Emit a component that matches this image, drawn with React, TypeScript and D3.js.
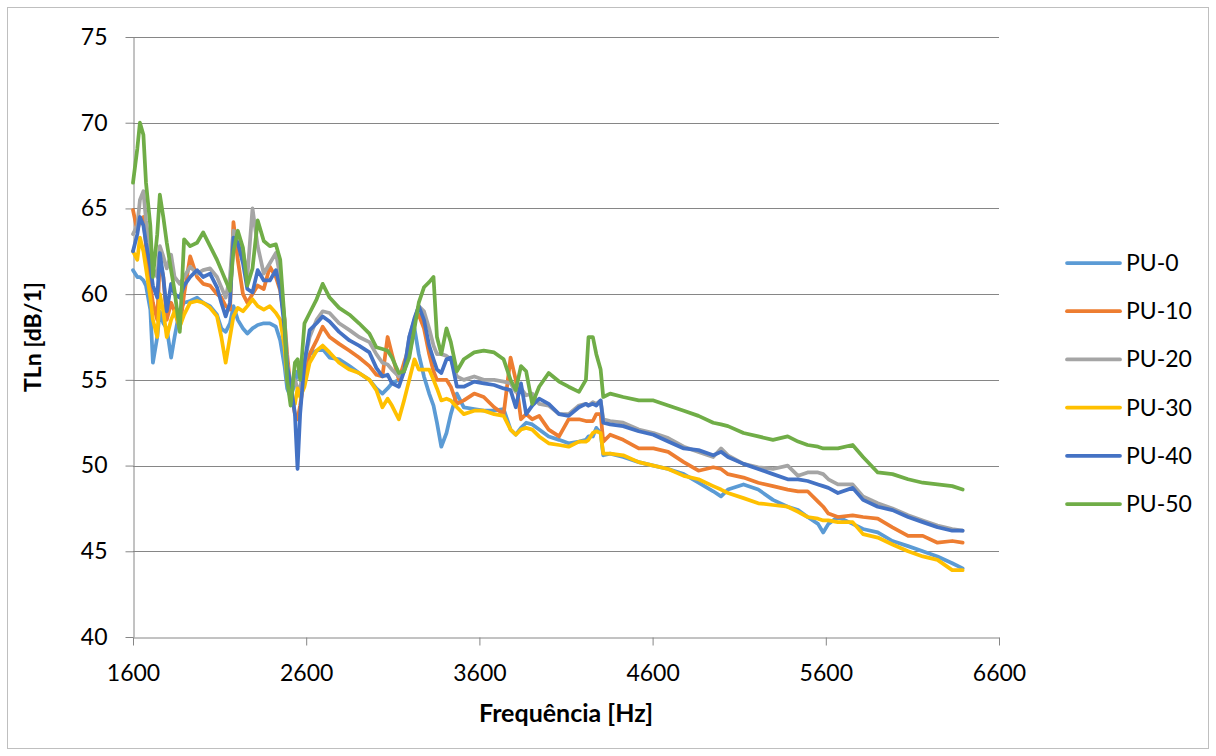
import { useRef, useEffect } from 'react';
import * as d3 from 'd3';

// frequency grid [Hz] shared by all series
const freqs = [
  1600, 1625, 1640, 1660, 1675, 1700, 1715, 1740, 1755, 1775, 1795, 1820, 1840, 1870, 1895, 1930, 1970, 2005, 2045, 2085,
  2110, 2135, 2160, 2180, 2205, 2235, 2260, 2290, 2320, 2355, 2390, 2425, 2450, 2475, 2490, 2510, 2535, 2550, 2565, 2590,
  2620, 2660, 2695, 2735, 2790, 2850, 2905, 2965, 3005, 3040, 3070, 3095, 3135, 3165, 3195, 3225, 3250, 3280, 3310, 3335,
  3355, 3380, 3410, 3435, 3470, 3510, 3570, 3625, 3685, 3740, 3780, 3810, 3840, 3870, 3905, 3945, 4000, 4060, 4115, 4175,
  4215, 4230, 4255, 4275, 4300, 4315, 4355, 4430, 4520, 4605, 4690, 4780, 4865, 4950, 4995, 5035, 5125, 5210, 5295, 5380,
  5440, 5495, 5555, 5585, 5615, 5670, 5755, 5815, 5900, 5985, 6075, 6160, 6245, 6330, 6390,
];

const pu0 = [
  61.4, 61.0, 61.0, 60.8, 60.5, 59.1, 56.0, 57.5, 59.0, 58.3, 58.0, 56.3, 57.5, 59.1, 59.5, 59.6, 59.8, 59.5, 59.3, 58.8,
  58.0, 57.8, 58.3, 59.3, 58.5, 58.0, 57.7, 58.0, 58.2, 58.3, 58.3, 58.1, 57.3, 55.8, 54.5, 54.0, 54.8, 55.5, 55.2, 55.5,
  56.5, 56.7, 56.8, 56.3, 56.2, 55.8, 55.4, 55.0, 54.5, 54.2, 54.5, 54.8, 55.0, 55.5, 56.5, 58.0, 56.5, 55.2, 54.2, 53.5,
  52.5, 51.1, 51.9, 53.0, 54.2, 53.4, 53.3, 53.2, 53.2, 53.3, 52.1, 51.8, 52.2, 52.5, 52.4, 52.1, 51.7, 51.5, 51.3, 51.4,
  51.5, 51.7, 51.7, 52.2, 51.9, 50.6, 50.7, 50.5, 50.2, 50.0, 49.8, 49.5, 49.0, 48.5, 48.2, 48.6, 48.9, 48.6, 48.0, 47.6,
  47.4, 47.0, 46.6, 46.1, 46.6, 47.0, 46.6, 46.3, 46.1, 45.6, 45.3, 45.0, 44.7, 44.3, 44.0,
];

const pu10 = [
  64.9, 63.7, 64.3, 64.5, 62.8, 60.5, 59.5, 58.5, 62.0, 61.0, 58.5, 59.5, 59.0, 58.0, 60.0, 62.2, 61.0, 60.6, 60.5, 60.0,
  59.8, 59.3, 59.1, 64.2, 62.0, 60.0, 59.5, 60.0, 60.5, 60.3, 61.6, 61.0, 60.2, 58.5, 56.5, 54.5, 53.0, 52.7, 53.5, 55.2,
  56.5, 57.3, 58.1, 57.5, 57.1, 56.7, 56.3, 55.8, 55.3, 55.2, 57.5, 56.5, 55.0, 56.0, 56.9, 58.5, 58.8, 58.0, 56.5, 55.5,
  55.0, 55.0, 55.0, 54.6, 53.6, 53.8, 54.2, 54.0, 53.4, 53.0, 56.3, 55.0, 52.7, 53.0, 52.7, 52.9, 52.1, 51.7, 52.7, 52.7,
  52.6, 52.6, 52.6, 53.0, 53.0, 51.4, 51.8, 51.5, 51.0, 51.0, 50.8, 50.2, 49.7, 49.9, 49.8, 49.5, 49.3, 49.0, 48.8, 48.6,
  48.5, 48.5, 47.9, 47.6, 47.2, 47.0, 47.1, 47.0, 46.9, 46.4, 45.9, 45.9, 45.5, 45.6, 45.5,
];

const pu20 = [
  63.5, 64.0, 65.5, 66.0, 64.3, 62.5, 61.5, 61.0, 62.8, 62.2, 61.5, 62.3, 61.0, 60.6, 61.0, 61.6, 61.2, 61.4, 61.5, 61.0,
  60.4, 59.8, 61.0, 63.7, 63.5, 62.5, 61.0, 65.0, 62.8, 61.2, 61.8, 62.4, 61.0, 58.5, 56.0, 54.5, 55.0, 54.5, 54.5, 56.0,
  57.5, 58.5, 59.0, 58.9, 58.3, 57.9, 57.5, 57.2, 56.5, 56.0, 55.9, 55.6, 55.2, 55.5, 57.5, 58.5, 59.3, 59.0, 58.0, 57.0,
  56.5, 56.5, 56.4, 56.2, 55.2, 55.0, 55.2, 55.0, 55.0, 54.9, 54.8, 54.3, 54.5, 54.1, 54.2, 53.6, 53.5, 53.0, 53.0, 53.5,
  53.6, 53.5, 53.7, 53.6, 53.8, 52.7, 52.6, 52.5, 52.1, 51.9, 51.6, 51.1, 50.8, 50.5, 51.0, 50.6, 50.1, 49.9, 49.8, 50.0,
  49.4, 49.6, 49.6, 49.5, 49.2, 48.9, 48.9, 48.2, 47.8, 47.5, 47.1, 46.8, 46.5, 46.3, 46.2,
];

const pu30 = [
  62.5, 62.0, 63.3, 62.5, 61.5, 59.8, 58.5, 57.5, 60.0, 59.0, 57.5, 58.5, 59.0, 58.1, 58.8, 59.5, 59.6, 59.5, 59.2, 58.7,
  57.5, 56.0, 57.5, 58.7, 59.2, 59.0, 59.3, 59.7, 59.3, 59.1, 59.3, 58.9, 58.5, 56.9, 55.0, 54.0, 53.6, 54.5, 54.0, 54.6,
  56.0, 56.7, 57.0, 56.6, 56.0, 55.6, 55.4, 55.0, 54.4, 53.4, 53.9, 53.5, 52.7, 53.8, 55.0, 56.2, 55.6, 55.6, 55.6, 55.0,
  54.5, 53.8, 53.9, 53.8, 53.4, 53.0, 53.2, 53.2, 53.0, 52.9, 52.1, 51.8, 52.1, 52.2, 52.1, 51.7, 51.3, 51.2, 51.1, 51.4,
  51.4, 51.5, 51.9, 52.0, 51.9, 50.7, 50.7, 50.6, 50.2, 50.0, 49.8, 49.4, 49.2, 48.8, 48.6, 48.4, 48.1, 47.8, 47.7, 47.6,
  47.3, 47.0, 46.9, 46.8, 46.8, 46.7, 46.7, 46.0, 45.8, 45.4, 45.0, 44.7, 44.5, 43.9, 43.9,
];

const pu40 = [
  62.5, 63.5, 64.5, 64.0, 63.0, 61.6, 60.5, 59.8, 62.4, 61.0, 59.0, 60.6, 60.0, 59.8, 60.5, 61.0, 61.4, 61.0, 61.2, 60.4,
  59.5, 58.7, 59.5, 63.3, 63.0, 61.8, 60.3, 60.1, 61.4, 60.8, 60.8, 61.4, 60.3, 58.0, 55.8, 54.8, 53.0, 49.8, 53.0, 56.0,
  57.9, 58.3, 58.7, 58.4, 57.8, 57.3, 57.0, 56.6, 55.7, 55.2, 55.3, 54.8, 54.6, 55.5, 57.5, 58.6, 59.3, 58.5, 57.0, 56.2,
  55.6, 55.4, 56.2, 56.3, 54.6, 54.6, 54.9, 54.8, 54.7, 54.5, 54.4, 53.4, 54.8, 53.0, 53.5, 53.9, 53.6, 53.0, 52.9, 53.4,
  53.6, 53.5, 53.6, 53.5, 53.8, 52.5, 52.4, 52.3, 52.0, 51.8, 51.4, 51.0, 50.9, 50.6, 50.8, 50.5, 50.1, 49.8, 49.5, 49.2,
  49.2, 49.1, 48.9, 48.8, 48.7, 48.4, 48.7, 48.0, 47.6, 47.4, 47.0, 46.7, 46.4, 46.2, 46.2,
];

const pu50 = [
  66.5, 68.5, 70.0, 69.3, 66.5, 64.0, 61.0, 63.5, 65.8, 64.5, 63.0, 61.4, 60.2, 57.8, 63.2, 62.8, 63.0, 63.6, 62.8, 62.0,
  61.4, 60.8, 60.2, 62.5, 63.7, 62.7, 60.5, 61.5, 64.3, 63.1, 62.8, 62.9, 62.0, 58.5, 55.0, 53.5, 56.0, 56.2, 55.0, 58.3,
  58.9, 59.7, 60.6, 59.8, 59.2, 58.8, 58.3, 57.7, 56.9, 56.8, 56.7, 56.3, 55.4, 55.5, 56.3, 58.0, 59.5, 60.4, 60.7, 61.0,
  57.5, 56.5, 58.0, 57.2, 55.5, 56.2, 56.6, 56.7, 56.6, 56.2, 55.0, 54.4, 55.8, 55.5, 53.6, 54.6, 55.4, 54.9, 54.6, 54.3,
  55.0, 57.5, 57.5, 56.5, 55.6, 54.0, 54.2, 54.0, 53.8, 53.8, 53.5, 53.2, 52.9, 52.5, 52.4, 52.3, 51.9, 51.7, 51.5, 51.7,
  51.4, 51.2, 51.1, 51.0, 51.0, 51.0, 51.2, 50.5, 49.6, 49.5, 49.2, 49.0, 48.9, 48.8, 48.6,
];

const seriesNames = ['PU-0', 'PU-10', 'PU-20', 'PU-30', 'PU-40', 'PU-50'];
const seriesValues = [pu0, pu10, pu20, pu30, pu40, pu50];
const seriesColors = ['#5b9bd5', '#ed7d31', '#a5a5a5', '#ffc000', '#4472c4', '#70ad47'];

const xTicks = [1600, 2600, 3600, 4600, 5600, 6600];
const yTicks = [40, 45, 50, 55, 60, 65, 70, 75];

const FONT = 'Lato, "Open Sans", sans-serif';

const App = () => {
  const svgRef = useRef<SVGSVGElement>(null);

  useEffect(() => {
    const width = 1216;
    const height = 756;
    const left = 133;
    const right = 999;
    const top = 37;
    const bottom = 637;
    const axisColor = '#868686';

    const xScale = d3.scaleLinear([1600, 6600], [left, right]);
    const yScale = d3.scaleLinear([40, 75], [bottom, top]);

    const svg = d3.select(svgRef.current);
    svg.selectAll('*').remove();

    svg.append('rect')
      .attr('width', width)
      .attr('height', height)
      .attr('fill', '#ffffff');

    // chart area border
    svg.append('rect')
      .attr('x', 7.5)
      .attr('y', 7.5)
      .attr('width', width - 15)
      .attr('height', height - 15)
      .attr('fill', 'none')
      .attr('stroke', '#bfbfbf');

    // horizontal gridlines
    svg.append('g')
      .selectAll('line')
      .data(yTicks.filter((d) => d !== 40))
      .join('line')
      .attr('x1', left)
      .attr('x2', right)
      .attr('y1', (d) => Math.round(yScale(d)) + 0.5)
      .attr('y2', (d) => Math.round(yScale(d)) + 0.5)
      .attr('stroke', axisColor)
      .attr('stroke-width', 1);

    // y axis
    svg.append('g')
      .attr('transform', `translate(${left + 0.5},0)`)
      .call(d3.axisLeft(yScale).tickValues(yTicks).tickSize(8).tickSizeOuter(0).tickPadding(18))
      .call((g) => g.select('.domain').attr('stroke', axisColor))
      .call((g) => g.selectAll('.tick line').attr('stroke', axisColor))
      .call((g) => g.selectAll('.tick text')
        .attr('font-size', 23)
        .attr('font-family', FONT)
        .attr('fill', '#000'));

    // x axis
    svg.append('g')
      .attr('transform', `translate(0,${bottom + 0.5})`)
      .call(d3.axisBottom(xScale).tickValues(xTicks).tickFormat(d3.format('d')).tickSize(8).tickSizeOuter(0).tickPadding(19))
      .call((g) => g.select('.domain').attr('stroke', axisColor))
      .call((g) => g.selectAll('.tick line').attr('stroke', axisColor))
      .call((g) => g.selectAll('.tick text')
        .attr('font-size', 23)
        .attr('font-family', FONT)
        .attr('fill', '#000'));

    // series lines
    const line = d3.line<number>()
      .x((_, i) => xScale(freqs[i]))
      .y((d) => yScale(d))
      .curve(d3.curveLinear);

    seriesValues.forEach((vals, k) => {
      svg.append('path')
        .attr('fill', 'none')
        .attr('stroke', seriesColors[k])
        .attr('stroke-width', 3.75)
        .attr('stroke-linejoin', 'round')
        .attr('stroke-linecap', 'round')
        .attr('d', line(vals));
    });

    // axis titles
    svg.append('text')
      .attr('x', 566)
      .attr('y', 722)
      .attr('text-anchor', 'middle')
      .attr('font-family', FONT)
      .attr('font-weight', 'bold')
      .attr('font-size', 25)
      .text('Frequência [Hz]');

    svg.append('text')
      .attr('transform', `translate(41,${(top + bottom) / 2}) rotate(-90)`)
      .attr('text-anchor', 'middle')
      .attr('font-family', FONT)
      .attr('font-weight', 'bold')
      .attr('font-size', 23)
      .text('TLn [dB/1]');

    // legend
    const legend = svg.append('g')
      .selectAll('g')
      .data(seriesNames)
      .join('g')
      .attr('transform', (_, i) => `translate(1067,${263 + i * 48.2})`);

    legend.append('line')
      .attr('x1', 0)
      .attr('x2', 53)
      .attr('stroke', (_, i) => seriesColors[i])
      .attr('stroke-width', 3.75)
      .attr('stroke-linecap', 'round');

    legend.append('text')
      .attr('x', 59)
      .attr('dy', '0.35em')
      .attr('font-family', FONT)
      .attr('font-size', 23)
      .text((d) => d);
  }, []);

  return (
    <svg
      ref={svgRef}
      width={1216}
      height={756}
      style={{ position: 'absolute', left: 0, top: 0 }}
    />
  );
};

export default App;
